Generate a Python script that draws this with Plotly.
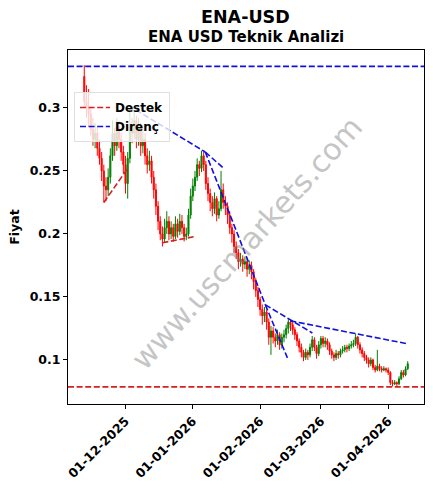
import pandas as pd
import plotly.graph_objects as go

# ---------------- data ----------------
start_date = "2025-11-12"
first_open = 0.325
closes = [0.305, 0.300, 0.295, 0.283, 0.275, 0.280, 0.268, 0.260, 0.250, 0.238,
          0.235, 0.245, 0.262, 0.280, 0.270, 0.285, 0.275, 0.265, 0.255, 0.240,
          0.260, 0.285, 0.280, 0.290, 0.275, 0.285, 0.270, 0.275, 0.262, 0.255,
          0.258, 0.245, 0.235, 0.222, 0.210, 0.200, 0.196, 0.205, 0.210, 0.200,
          0.205, 0.198, 0.208, 0.202, 0.210, 0.205, 0.198, 0.200, 0.215, 0.230,
          0.238, 0.245, 0.255, 0.252, 0.262, 0.255, 0.240, 0.232, 0.225, 0.220,
          0.228, 0.215, 0.220, 0.235, 0.225, 0.222, 0.215, 0.205, 0.200, 0.190,
          0.185, 0.178, 0.180, 0.176, 0.178, 0.172, 0.175, 0.170, 0.162, 0.155,
          0.148, 0.140, 0.135, 0.138, 0.130, 0.118, 0.123, 0.118, 0.115, 0.120,
          0.112, 0.118, 0.120, 0.125, 0.130, 0.128, 0.124, 0.120, 0.115, 0.110,
          0.106, 0.102, 0.106, 0.104, 0.110, 0.116, 0.110, 0.105, 0.112, 0.117,
          0.113, 0.115, 0.112, 0.107, 0.104, 0.102, 0.105, 0.104, 0.107, 0.108,
          0.110, 0.109, 0.111, 0.112, 0.113, 0.118, 0.112, 0.108, 0.105, 0.102,
          0.100, 0.097, 0.100, 0.094, 0.092, 0.095, 0.093, 0.092, 0.093, 0.092,
          0.090, 0.082, 0.081, 0.082, 0.081, 0.085, 0.090, 0.088, 0.093, 0.097]
highs = [0.334, 0.318, 0.315, 0.300, 0.292, 0.288, 0.285, 0.275, 0.265, 0.255,
         0.245, 0.252, 0.268, 0.290, 0.284, 0.292, 0.290, 0.280, 0.270, 0.262,
         0.265, 0.300, 0.292, 0.298, 0.294, 0.292, 0.288, 0.282, 0.280, 0.268,
         0.266, 0.262, 0.250, 0.240, 0.226, 0.214, 0.206, 0.212, 0.218, 0.214,
         0.210, 0.208, 0.214, 0.212, 0.216, 0.215, 0.208, 0.205, 0.220, 0.236,
         0.244, 0.250, 0.260, 0.258, 0.266, 0.265, 0.258, 0.245, 0.236, 0.230,
         0.233, 0.230, 0.226, 0.250, 0.240, 0.230, 0.225, 0.218, 0.208, 0.203,
         0.194, 0.188, 0.185, 0.183, 0.182, 0.181, 0.179, 0.178, 0.172, 0.165,
         0.158, 0.150, 0.144, 0.142, 0.140, 0.133, 0.127, 0.126, 0.121, 0.124,
         0.122, 0.121, 0.124, 0.128, 0.133, 0.132, 0.130, 0.126, 0.122, 0.117,
         0.113, 0.108, 0.109, 0.108, 0.113, 0.119, 0.118, 0.112, 0.115, 0.119,
         0.119, 0.118, 0.117, 0.114, 0.109, 0.106, 0.108, 0.107, 0.109, 0.111,
         0.112, 0.112, 0.113, 0.115, 0.116, 0.121, 0.119, 0.114, 0.110, 0.107,
         0.104, 0.102, 0.102, 0.101, 0.096, 0.108, 0.097, 0.095, 0.095, 0.094,
         0.094, 0.091, 0.084, 0.084, 0.083, 0.087, 0.092, 0.092, 0.095, 0.099]
lows = [0.300, 0.292, 0.285, 0.278, 0.270, 0.268, 0.262, 0.255, 0.242, 0.225,
        0.226, 0.230, 0.240, 0.258, 0.262, 0.266, 0.268, 0.258, 0.248, 0.232,
        0.228, 0.256, 0.272, 0.275, 0.268, 0.270, 0.262, 0.264, 0.255, 0.248,
        0.250, 0.240, 0.228, 0.215, 0.203, 0.195, 0.190, 0.193, 0.200, 0.195,
        0.196, 0.194, 0.196, 0.197, 0.199, 0.200, 0.194, 0.195, 0.198, 0.212,
        0.226, 0.234, 0.242, 0.246, 0.249, 0.250, 0.235, 0.226, 0.218, 0.214,
        0.216, 0.210, 0.212, 0.218, 0.220, 0.215, 0.208, 0.200, 0.193, 0.185,
        0.180, 0.172, 0.174, 0.170, 0.172, 0.166, 0.168, 0.164, 0.156, 0.150,
        0.142, 0.135, 0.128, 0.130, 0.124, 0.112, 0.104, 0.113, 0.110, 0.112,
        0.108, 0.109, 0.114, 0.117, 0.121, 0.123, 0.120, 0.116, 0.111, 0.106,
        0.102, 0.099, 0.100, 0.100, 0.102, 0.107, 0.107, 0.101, 0.103, 0.109,
        0.110, 0.110, 0.108, 0.104, 0.101, 0.099, 0.100, 0.101, 0.102, 0.105,
        0.106, 0.106, 0.107, 0.109, 0.110, 0.111, 0.109, 0.105, 0.102, 0.099,
        0.097, 0.094, 0.095, 0.092, 0.090, 0.091, 0.091, 0.090, 0.091, 0.090,
        0.088, 0.080, 0.079, 0.080, 0.079, 0.080, 0.084, 0.086, 0.087, 0.092]

support_level = 0.0786
resistance_level = 0.333

# trend segments: (start date, start price, end date, end price)
support_segments = [
    ("2025-11-21", 0.225, "2025-12-02", 0.252),
    ("2025-12-18", 0.193, "2026-01-02", 0.198),
]
resistance_segments = [
    ("2025-12-02 10:00", 0.302, "2026-01-06 18:00", 0.265),
    ("2026-01-06 18:00", 0.265, "2026-01-15 06:00", 0.252),
    ("2026-01-06 18:00", 0.265, "2026-02-03 10:00", 0.1437),
    ("2026-02-03 10:00", 0.1437, "2026-02-13 14:00", 0.1016),
    ("2026-02-03 10:00", 0.1437, "2026-02-25 02:00", 0.1214),
    ("2026-02-14 22:00", 0.131, "2026-04-10 05:00", 0.1127),
]

tick_dates = ["2025-12-01", "2026-01-01", "2026-02-01", "2026-03-01", "2026-04-01"]
tick_labels = ["01-12-2025", "01-01-2026", "01-02-2026", "01-03-2026", "01-04-2026"]
y_ticks = [0.1, 0.15, 0.2, 0.25, 0.3]
y_tick_labels = ["0.1", "0.15", "0.2", "0.25", "0.3"]

# ---------------- build ----------------
dates = pd.date_range(start_date, periods=len(closes), freq="D")
opens = [first_open] + closes[:-1]

FONT = "DejaVu Sans"
DASH = "6px,2.6px"
RED = "#d62020"
BLUE = "#1010e0"
fig = go.Figure()
fig.add_trace(go.Candlestick(
    x=dates, open=opens, high=highs, low=lows, close=closes,
    increasing=dict(line=dict(color="green", width=1), fillcolor="green"),
    decreasing=dict(line=dict(color="red", width=1), fillcolor="red"),
    whiskerwidth=0, showlegend=False, hoverinfo="skip",
))

x0, x1 = "2025-11-04 12:00", "2026-04-17 12:00"
fig.add_trace(go.Scatter(x=[x0, x1], y=[support_level, support_level], mode="lines",
                         line=dict(color=RED, width=1.6, dash=DASH), name="Destek"))
fig.add_trace(go.Scatter(x=[x0, x1], y=[resistance_level, resistance_level], mode="lines",
                         line=dict(color=BLUE, width=1.6, dash=DASH), name="Direnç"))
for (d0, p0, d1, p1) in support_segments:
    fig.add_trace(go.Scatter(x=[d0, d1], y=[p0, p1], mode="lines",
                             line=dict(color=RED, width=1.6, dash=DASH), showlegend=False))
for (d0, p0, d1, p1) in resistance_segments:
    fig.add_trace(go.Scatter(x=[d0, d1], y=[p0, p1], mode="lines",
                             line=dict(color=BLUE, width=1.6, dash=DASH), showlegend=False))

L, R, T, B = 68, 9, 50, 85
W, H = 433, 489
ph = H - T - B
pw = W - L - R

def py(ypx):
    return (H - B - ypx) / ph

def px(xpx):
    return (xpx - L) / pw

fig.update_layout(
    width=W, height=H, margin=dict(l=L, r=R, t=T, b=B, autoexpand=False),
    paper_bgcolor="white", plot_bgcolor="white",
    font=dict(family=FONT, color="black"),
    xaxis=dict(type="date", range=[x0, x1], rangeslider=dict(visible=False), automargin=False,
               tickvals=tick_dates, ticktext=tick_labels, tickangle=-45,
               tickfont=dict(family=FONT, size=12.5, color="black", weight="bold"),
               showline=True, linecolor="black", linewidth=1, mirror=True,
               ticks="outside", ticklen=4, tickcolor="black", showgrid=False, zeroline=False),
    yaxis=dict(range=[0.065, 0.346], tickvals=y_ticks, ticktext=y_tick_labels, automargin=False,
               tickfont=dict(family=FONT, size=12.5, color="black", weight="bold"),
               showline=True, linecolor="black", linewidth=1, mirror=True,
               ticks="outside", ticklen=4, tickcolor="black", showgrid=False, zeroline=False,
               title=dict(text="Fiyat", font=dict(family=FONT, size=12.5, color="black", weight="bold"),
                          standoff=7)),
    legend=dict(x=px(74), y=py(92), xanchor="left", yanchor="top",
                bgcolor="rgba(255,255,255,0.8)", bordercolor="#e0e0e0", borderwidth=1,
                font=dict(family=FONT, size=12, color="black", weight="bold"),
                itemwidth=30, tracegroupgap=0),
    annotations=[
        dict(text="<b>ENA-USD</b>", x=px(245), y=py(17), xref="paper", yref="paper",
             showarrow=False, font=dict(family=FONT, size=17.5, color="black"),
             xanchor="center", yanchor="middle"),
        dict(text="<b>ENA USD Teknik Analizi</b>", x=px(246), y=py(37), xref="paper", yref="paper",
             showarrow=False, font=dict(family=FONT, size=15, color="black"),
             xanchor="center", yanchor="middle"),
        dict(text="www.uscmarkets.com", x=px(246), y=py(243), xref="paper", yref="paper",
             showarrow=False, textangle=-48, opacity=0.45,
             font=dict(family=FONT, size=30, color="gray"),
             xanchor="center", yanchor="middle"),
    ],
)

fig.write_html("out.html", config={"displayModeBar": False},
               post_script="document.body.style.margin='0';document.body.style.padding='0';")
